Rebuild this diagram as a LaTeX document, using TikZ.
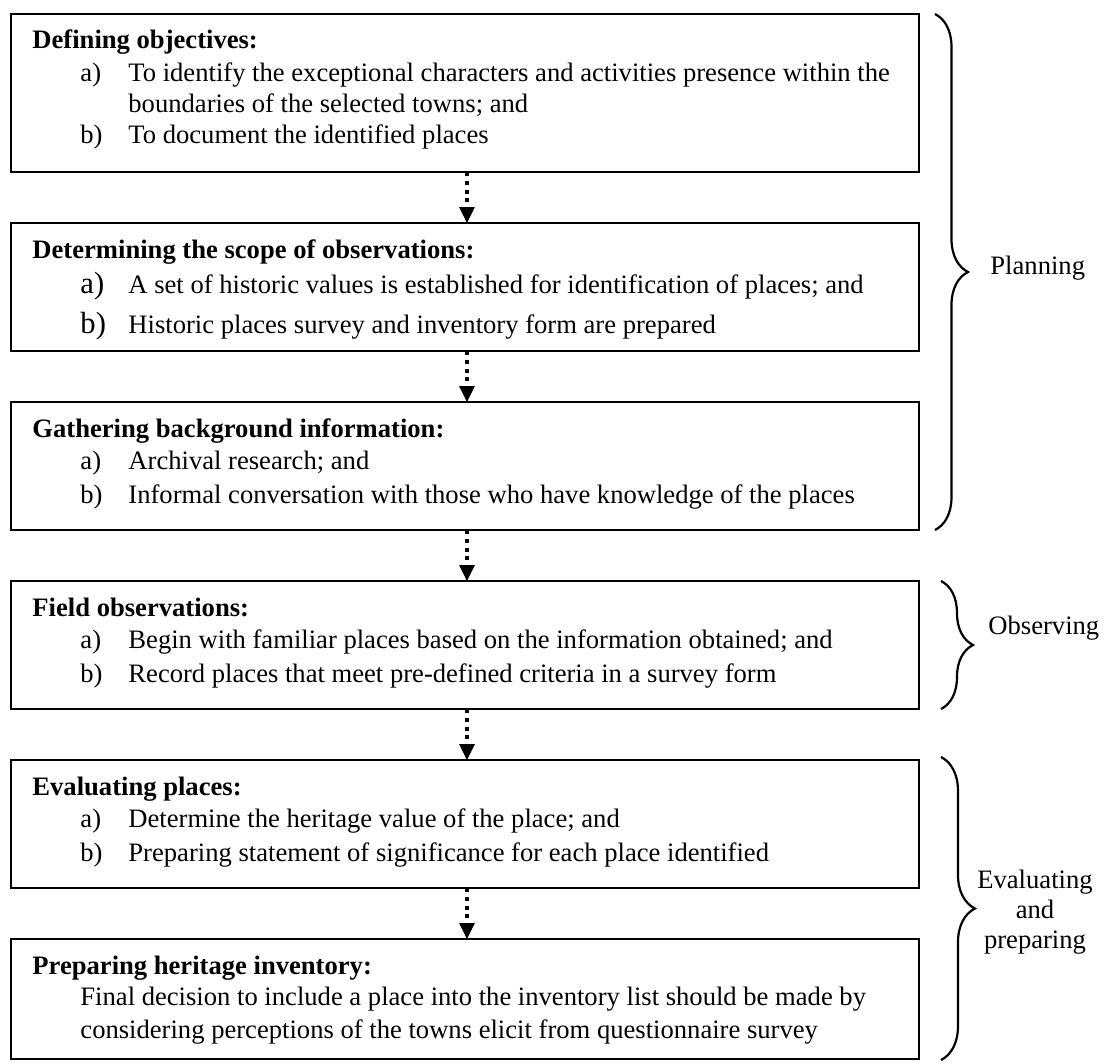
\documentclass[tikz,border=0pt]{standalone}
\usepackage{fontspec}
\setmainfont{Liberation Serif}
\usetikzlibrary{arrows.meta,decorations.pathreplacing}
\newcommand\twelvept{\fontsize{12.15}{14}\selectfont}
\begin{document}
\begin{tikzpicture}[x=0.4566pt,y=-0.4566pt,
  every node/.style={font=\twelvept},
  box/.style={draw, line width=1pt, rectangle, anchor=north west, outer sep=0pt, inner sep=0pt, minimum width=414.6pt},
  ttl/.style={anchor=base west, inner sep=0pt, font=\twelvept\bfseries},
  txt/.style={anchor=base west, inner sep=0pt},
  biglbl/.style={anchor=base west, inner sep=0pt, font=\fontsize{14}{16}\selectfont},
  flow/.style={line width=2.2pt, dash pattern=on 1.9pt off 2.1pt, -{Triangle[length=7.2pt,width=7pt,line width=0.4pt]}},
  brc/.style={decorate, line width=1pt, decoration={brace, amplitude=#1}},
  sidec/.style={anchor=base, inner sep=0pt}]
\useasboundingbox (0,0) rectangle (1108,1063);

% boxes
\node[box, minimum height=72.14pt] (b1) at (11,14) {};
\node[box, minimum height=58.44pt] (b2) at (11,223) {};
\node[box, minimum height=58.44pt] (b3) at (11,402) {};
\node[box, minimum height=58.44pt] (b4) at (11,581) {};
\node[box, minimum height=58.44pt] (b5) at (11,760) {};
\node[box, minimum height=54.79pt] (b6) at (11,939) {};

% box 1
\node[ttl] (t1) at (32,48) {Defining objectives:};
\node[txt] (t1a) at (80,81) {a)};
\node[txt] (t1ax) at (128,81) {To identify the exceptional characters and activities presence within the};
\node[txt] (t1ay) at (128,112) {boundaries of the selected towns; and};
\node[txt] (t1b) at (80,143) {b)};
\node[txt] (t1bx) at (128,143) {To document the identified places};

% box 2
\node[ttl] (t2) at (32,258) {Determining the scope of observations:};
\node[biglbl] (t2a) at (80,293) {a)};
\node[txt] (t2ax) at (128,293) {A set of historic values is established for identification of places; and};
\node[biglbl] (t2b) at (80,333) {b)};
\node[txt] (t2bx) at (128,333) {Historic places survey and inventory form are prepared};

% box 3
\node[ttl] (t3) at (32,437) {Gathering background information:};
\node[txt] (t3a) at (80,469) {a)};
\node[txt] (t3ax) at (128,469) {Archival research; and};
\node[txt] (t3b) at (80,503) {b)};
\node[txt] (t3bx) at (128,503) {Informal conversation with those who have knowledge of the places};

% box 4
\node[ttl] (t4) at (32,616) {Field observations:};
\node[txt] (t4a) at (80,648) {a)};
\node[txt] (t4ax) at (128,648) {Begin with familiar places based on the information obtained; and};
\node[txt] (t4b) at (80,682) {b)};
\node[txt] (t4bx) at (128,682) {Record places that meet pre-defined criteria in a survey form};

% box 5
\node[ttl] (t5) at (32,795) {Evaluating places:};
\node[txt] (t5a) at (80,827) {a)};
\node[txt] (t5ax) at (128,827) {Determine the heritage value of the place; and};
\node[txt] (t5b) at (80,861) {b)};
\node[txt] (t5bx) at (128,861) {Preparing statement of significance for each place identified};

% box 6
\node[ttl] (t6) at (32,974) {Preparing heritage inventory:};
\node[txt] (t6a) at (80,1005) {Final decision to include a place into the inventory list should be made by};
\node[txt] (t6b) at (80,1038) {considering perceptions of the towns elicit from questionnaire survey};

% connectors
\draw[flow] ([xshift=0.9pt]b1.south) -- ([xshift=0.9pt]b2.north);
\draw[flow] ([xshift=0.9pt]b2.south) -- ([xshift=0.9pt]b3.north);
\draw[flow] ([xshift=0.9pt]b3.south) -- ([xshift=0.9pt]b4.north);
\draw[flow] ([xshift=0.9pt]b4.south) -- ([xshift=0.9pt]b5.north);
\draw[flow] ([xshift=0.9pt]b5.south) -- ([xshift=0.9pt]b6.north);

% braces
\coordinate (p1) at (935,14);
\coordinate (p2) at (935,530);
\coordinate (o1) at (941,581);
\coordinate (o2) at (941,709);
\coordinate (e1) at (941,757);
\coordinate (e2) at (941,1060);
\draw[brc=15.07pt] (p1) -- (p2);
\draw[brc=14.6pt] (o1) -- (o2);
\draw[brc=15.5pt] (e1) -- (e2);

\node[txt] (lp) at (990,274) {Planning};
\node[txt] (lo) at (988,634) {Observing};
\node[sidec] (le1) at (1035,888) {Evaluating};
\node[sidec] (le2) at (1035,918) {and};
\node[sidec] (le3) at (1035,948) {preparing};
\end{tikzpicture}
\end{document}
